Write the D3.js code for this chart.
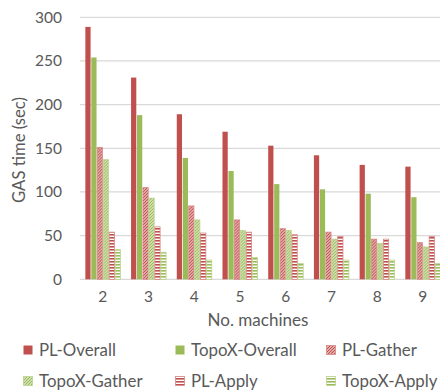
<!DOCTYPE html>
<html>
<head>
<meta charset="utf-8">
<script src="https://cdn.jsdelivr.net/npm/d3@7"></script>
<style>
  html, body { margin: 0; padding: 0; background: #fff; }
  svg { display: block; }
  text { font-family: Lato, "Open Sans", sans-serif; fill: #595959; }
</style>
</head>
<body>
<svg id="chart" width="440" height="392"></svg>
<script>
// Number of machines on the x axis
const machines = ["2", "3", "4", "5", "6", "7", "8", "9"];

// Series names and GAS times in seconds
const seriesNames = ["PL-Overall", "TopoX-Overall", "PL-Gather", "TopoX-Gather", "PL-Apply", "TopoX-Apply"];
const plOverall    = [289, 231, 189, 169, 153, 142, 131, 129];
const topoxOverall = [254, 188, 139, 124, 109, 103, 98, 94];
const plGather     = [151, 105, 84, 68, 58, 54, 46, 42];
const topoxGather  = [137, 93, 68, 56, 56, 46, 41, 37];
const plApply      = [54, 60, 53, 54, 51, 49, 46, 49];
const topoxApply   = [34, 31, 22, 25, 18, 22, 22, 18];

const yTicks = [0, 50, 100, 150, 200, 250, 300];

const seriesValues = [plOverall, topoxOverall, plGather, topoxGather, plApply, topoxApply];

const RED = "#C0504D", GREEN = "#9BBB59";
const fills = {
  "PL-Overall": RED,
  "TopoX-Overall": GREEN,
  "PL-Gather": "url(#diag-red)",
  "TopoX-Gather": "url(#diag-green)",
  "PL-Apply": "url(#horiz-red)",
  "TopoX-Apply": "url(#horiz-green)"
};
const strokes = {
  "PL-Gather": "#D98886",
  "TopoX-Gather": "#BCD38F",
  "PL-Apply": "#D98886",
  "TopoX-Apply": "#BCD38F"
};

const svg = d3.select("#chart");
const margin = { left: 80, top: 17.3, bottom: 279.3 };
const plotRight = 445.7;

// Size a text element so that it spans the given width
function fitWidth(sel, width) {
  sel.each(function () {
    const t = d3.select(this);
    const base = +t.attr("font-size") || 16;
    const w = this.getComputedTextLength();
    if (w > 0) t.attr("font-size", base * width / w);
  });
}

// Hatch patterns for the Gather / Apply series
const defs = svg.append("defs");
function diagPattern(id, color) {
  const p = defs.append("pattern").attr("id", id)
    .attr("patternUnits", "userSpaceOnUse").attr("width", 3).attr("height", 3);
  p.append("rect").attr("width", 3).attr("height", 3).attr("fill", "#fff");
  p.append("path").attr("d", "M-1,1 L1,-1 M0,3 L3,0 M2,4 L4,2")
    .attr("stroke", color).attr("stroke-width", 1.4);
}
function horizPattern(id, color) {
  const p = defs.append("pattern").attr("id", id)
    .attr("patternUnits", "userSpaceOnUse").attr("width", 3).attr("height", 3);
  p.append("rect").attr("width", 3).attr("height", 3).attr("fill", "#fff");
  p.append("rect").attr("y", 0).attr("width", 3).attr("height", 1.6).attr("fill", color);
}
diagPattern("diag-red", RED);
diagPattern("diag-green", GREEN);
horizPattern("horiz-red", RED);
horizPattern("horiz-green", GREEN);

const x0 = d3.scaleBand().domain(machines)
  .range([margin.left, plotRight]).paddingInner(0.234).paddingOuter(0.117);
const x1 = d3.scaleBand().domain(seriesNames)
  .range([0, x0.bandwidth()]).paddingInner(0.12);
const y = d3.scaleLinear().domain([0, 300]).range([margin.bottom, margin.top]);

// Gridlines
svg.append("g").selectAll("line").data(yTicks).join("line")
  .attr("x1", margin.left).attr("x2", plotRight)
  .attr("y1", d => y(d)).attr("y2", d => y(d))
  .attr("stroke", "#D9D9D9").attr("stroke-width", 1.2);

// Y axis labels
const yAxis = d3.axisLeft(y).tickValues(yTicks).tickSize(0).tickPadding(18);
const yg = svg.append("g").attr("transform", `translate(${margin.left},0)`).call(yAxis)
  .call(g => g.select(".domain").remove());
yg.selectAll("text").attr("font-size", 16).attr("fill", "#595959")
  .style("font-family", "Lato, sans-serif");
const tickSize = (() => {
  const n = yg.selectAll("text").filter(d => d === 300).node();
  return 16 * 27 / n.getComputedTextLength();
})();
yg.selectAll("text").attr("font-size", tickSize);

// Bars
const groups = svg.append("g").selectAll("g").data(machines).join("g")
  .attr("transform", d => `translate(${x0(d)},0)`);
groups.selectAll("rect")
  .data((m, i) => seriesNames.map((s, k) => ({ s, v: seriesValues[k][i] })))
  .join("rect")
  .attr("x", d => x1(d.s))
  .attr("width", x1.bandwidth())
  .attr("y", d => y(d.v))
  .attr("height", d => y(0) - y(d.v))
  .attr("fill", d => fills[d.s])
  .attr("stroke", d => strokes[d.s] || "none")
  .attr("stroke-width", 0.8);

// X axis labels
const xAxis = d3.axisBottom(x0).tickSize(0).tickPadding(12);
svg.append("g").attr("transform", `translate(0,${margin.bottom})`).call(xAxis)
  .call(g => g.select(".domain").remove())
  .call(g => g.selectAll("text").attr("font-size", tickSize).attr("fill", "#595959")
    .style("font-family", "Lato, sans-serif"));

// Axis titles
svg.append("text").attr("x", 258).attr("y", 326)
  .attr("text-anchor", "middle").attr("font-size", 16).text("No. machines")
  .call(fitWidth, 101);
svg.append("text")
  .attr("transform", "translate(25,150) rotate(-90)")
  .attr("text-anchor", "middle").attr("font-size", 16).text("GAS time (sec)")
  .call(fitWidth, 106);

// Legend
const legendPos = [
  [23, 350], [175, 350], [326, 350],
  [23, 381], [175, 381], [326, 381]
];
const legendOrder = ["PL-Overall", "TopoX-Overall", "PL-Gather", "TopoX-Gather", "PL-Apply", "TopoX-Apply"];
const lg = svg.append("g").selectAll("g").data(legendOrder).join("g")
  .attr("transform", (d, i) => `translate(${legendPos[i][0]},${legendPos[i][1]})`);
lg.append("rect").attr("x", 0.5).attr("y", -4.5).attr("width", 9).attr("height", 9)
  .attr("fill", d => fills[d])
  .attr("stroke", d => strokes[d] || "none").attr("stroke-width", 0.8);
const legendText = lg.append("text").attr("x", 16).attr("y", 0).attr("dy", "0.35em")
  .attr("font-size", 16).text(d => d);
const legendSize = 16 * 77 / legendText.filter(d => d === "PL-Overall").node().getComputedTextLength();
legendText.attr("font-size", legendSize);
</script>
</body>
</html>
